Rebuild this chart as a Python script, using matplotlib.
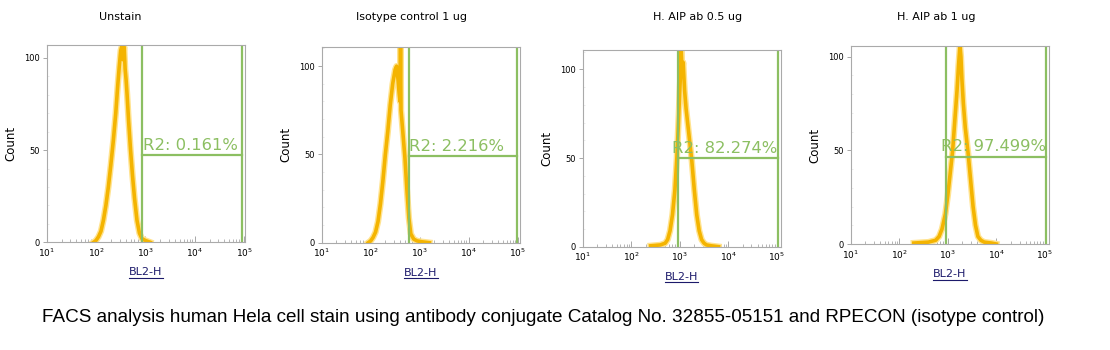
import numpy as np
import matplotlib.pyplot as plt
from matplotlib.ticker import FixedLocator, LogLocator, NullFormatter

titles = ["Unstain", "Isotype control 1 ug", "H. AIP ab 0.5 ug", "H. AIP ab 1 ug"]
gate_labels = ["R2: 0.161%", "R2: 2.216%", "R2: 82.274%", "R2: 97.499%"]

# histogram traces: log10(BL2-H) and counts
log_x1 = [1.95, 2.0, 2.05, 2.1, 2.15, 2.2, 2.25, 2.3, 2.35, 2.4, 2.44, 2.47, 2.5, 2.53,
          2.55, 2.57, 2.59, 2.61, 2.63, 2.66, 2.7, 2.74, 2.78, 2.83, 2.88, 2.93, 3.0, 3.05, 3.1]
count1 = [0, 1, 3, 6, 12, 20, 30, 42, 55, 70, 85, 95, 104, 107,
          99, 106, 94, 88, 80, 66, 50, 36, 24, 12, 5, 2, 1, 0.5, 0]

log_x2 = [1.95, 2.0, 2.05, 2.1, 2.15, 2.2, 2.25, 2.3, 2.35, 2.4, 2.45, 2.5, 2.53,
          2.56, 2.58, 2.6, 2.61, 2.62, 2.65, 2.7, 2.74, 2.78, 2.82, 2.88, 2.95, 3.05, 3.2]
count2 = [0, 1, 3, 6, 12, 22, 35, 50, 63, 78, 90, 98, 100,
          92, 85, 80, 111, 75, 65, 48, 30, 14, 5, 2, 1, 0.5, 0]

log_x3 = [2.4, 2.6, 2.7, 2.75, 2.8, 2.85, 2.9, 2.94, 2.97, 3.0, 3.02, 3.03, 3.05, 3.07,
          3.1, 3.13, 3.17, 3.21, 3.25, 3.3, 3.35, 3.4, 3.45, 3.5, 3.55, 3.65, 3.8]
count3 = [0.5, 1, 2, 4, 9, 18, 32, 50, 68, 88, 100, 111, 98, 104,
          88, 78, 68, 58, 48, 32, 18, 9, 4, 2, 1, 0.5, 0]

log_x4 = [2.3, 2.6, 2.75, 2.82, 2.88, 2.95, 3.0, 3.05, 3.1, 3.15, 3.19, 3.22, 3.25, 3.27,
          3.29, 3.32, 3.36, 3.42, 3.47, 3.52, 3.57, 3.62, 3.68, 3.75, 3.9, 4.0]
count4 = [0.5, 1, 2, 4, 8, 16, 26, 38, 50, 68, 82, 95, 106, 100,
          88, 75, 62, 48, 34, 20, 10, 4, 2, 1, 0.5, 0]

traces = [(log_x1, count1), (log_x2, count2), (log_x3, count3), (log_x4, count4)]

# gate R2: left edge, right edge, height
gate_left = [871, 603, 912, 900]
gate_right = [89000, 97700, 104700, 106000]
gate_y = [47.4, 49.2, 49.8, 46.6]

# layout in pixels (left, right, top, bottom) and axis limits
boxes = [(46.7, 245, 45, 242.3), (321.7, 520, 46.7, 242.7),
         (582.7, 780.7, 50, 246.7), (850.7, 1049.3, 46, 244)]
ytops = [107, 111, 111, 105.7]
xtops = [5.02, 5.05, 5.08, 5.09]
title_x = [120, 411, 698, 936]

W, H = 1110, 350
fig = plt.figure(figsize=(W / 100, H / 100), dpi=100)

green = "#8cbf62"
axes = []
for i in range(4):
    l, r, t, b = boxes[i]
    ax = fig.add_axes([l / W, 1 - b / H, (r - l) / W, (b - t) / H])
    axes.append(ax)
    lx, cy = traces[i]
    xs = 10 ** np.array(lx)
    ax.plot(xs, cy, color="#ffe38f", lw=4.6, solid_joinstyle="round")
    ax.plot(xs, cy, color="#f4b400", lw=2.6, solid_joinstyle="round")

    g1, g2, gy = gate_left[i], gate_right[i], gate_y[i]
    ax.plot([g1, g1], [0, ytops[i]], color=green, lw=1.6)
    ax.plot([g2, g2], [0, ytops[i]], color=green, lw=1.6)
    ax.plot([g1, g2], [gy, gy], color=green, lw=1.6)
    if i < 2:
        ax.text(g1 * 1.03, gy + 1.2, gate_labels[i], color=green, fontsize=11.8,
                ha="left", va="bottom")
    else:
        ax.text(g2 * 0.97, gy + 1.2, gate_labels[i], color=green, fontsize=11.8,
                ha="right", va="bottom")

    ax.set_xscale("log")
    ax.set_xlim(10, 10 ** xtops[i])
    ax.set_ylim(0, ytops[i])
    ax.set_xticks([10, 100, 1000, 10000, 100000])
    ax.set_xticklabels(["$10^{1}$", "$10^{2}$", "$10^{3}$", "$10^{4}$", "$10^{5}$"])
    ax.xaxis.set_minor_locator(LogLocator(base=10, subs=np.arange(2, 10)))
    ax.xaxis.set_minor_formatter(NullFormatter())
    ax.set_yticks([0, 50, 100])
    ax.yaxis.set_minor_locator(FixedLocator(np.arange(10, ytops[i], 10)))
    ax.tick_params(axis="x", which="major", direction="in", length=4, width=0.6,
                   colors="#999999", labelcolor="black", labelsize=6.5, pad=3)
    ax.tick_params(axis="x", which="minor", direction="in", length=2, width=0.5,
                   colors="#999999")
    ax.tick_params(axis="y", which="major", direction="out", length=3, width=0.6,
                   colors="#999999", labelcolor="black", labelsize=6, pad=2)
    ax.tick_params(axis="y", which="minor", direction="in", length=1.5, width=0.4,
                   colors="#dddddd")
    for s in ax.spines.values():
        s.set_color("#aaaaaa")
        s.set_linewidth(0.8)
    ax.set_ylabel("Count", fontsize=8.5, labelpad=5)
    ax.set_xlabel("BL2-H", fontsize=8, color="#1c1a6b", labelpad=6)

    fig.text(title_x[i] / W, 1 - 17 / H, titles[i], fontsize=8, ha="center", va="center")

fig.text(543.5 / W, 1 - 318 / H,
         "FACS analysis human Hela cell stain using antibody conjugate Catalog No. 32855-05151 and RPECON (isotype control)",
         fontsize=13.6, ha="center", va="center", family="Liberation Sans")

# underline the x labels like hyperlinks
fig.canvas.draw()
renderer = fig.canvas.get_renderer()
for ax in axes:
    bb = ax.xaxis.label.get_window_extent(renderer).transformed(fig.transFigure.inverted())
    fig.add_artist(plt.Line2D([bb.x0, bb.x1], [bb.y0 - 0.002, bb.y0 - 0.002],
                              color="#1c1a6b", lw=0.8, transform=fig.transFigure))

fig.savefig("out.png", dpi=100)
